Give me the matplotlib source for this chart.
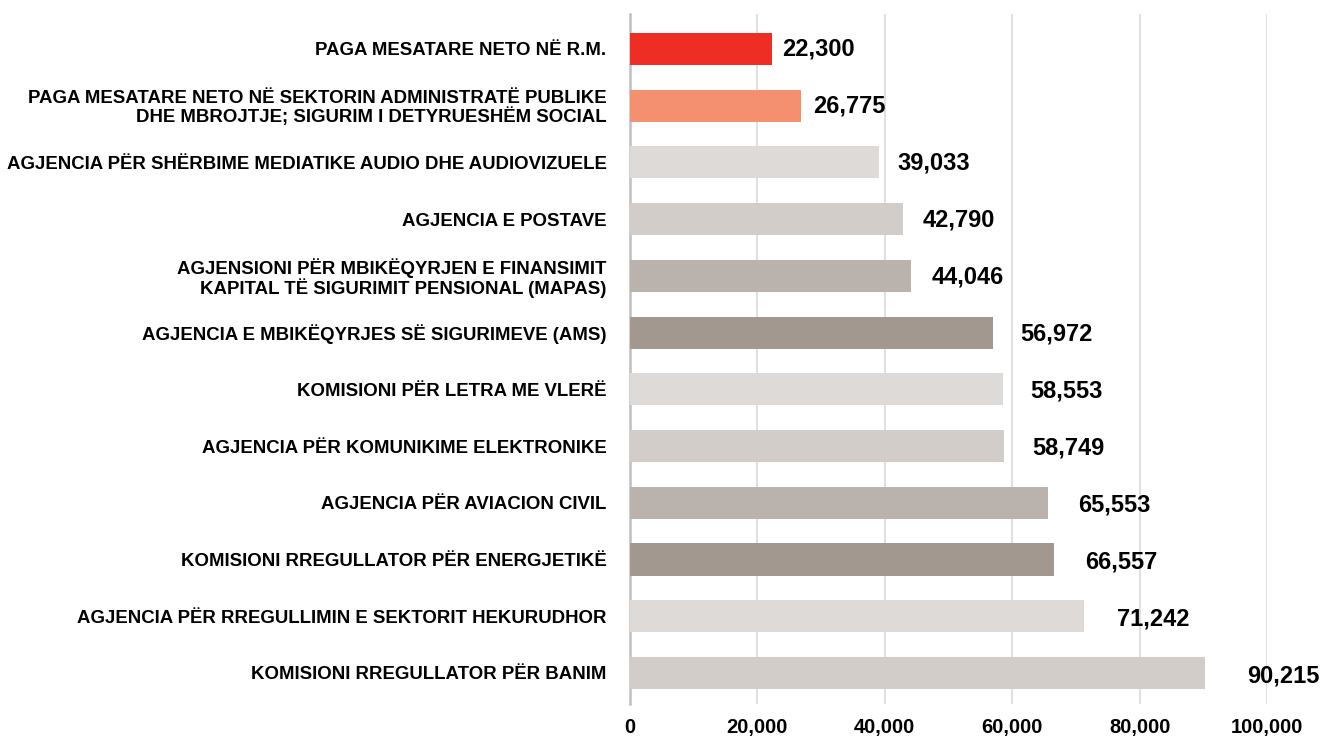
import matplotlib
matplotlib.use('Agg')
import matplotlib.pyplot as plt

# Data
categories = [
    "PAGA MESATARE NETO NË R.M.",
    "PAGA MESATARE NETO NË SEKTORIN ADMINISTRATË PUBLIKE\nDHE MBROJTJE; SIGURIM I DETYRUESHËM SOCIAL",
    "AGJENCIA PËR SHËRBIME MEDIATIKE AUDIO DHE AUDIOVIZUELE",
    "AGJENCIA E POSTAVE",
    "AGJENSIONI PËR MBIKËQYRJEN E FINANSIMIT\nKAPITAL TË SIGURIMIT PENSIONAL (MAPAS)",
    "AGJENCIA E MBIKËQYRJES SË SIGURIMEVE (AMS)",
    "KOMISIONI PËR LETRA ME VLERË",
    "AGJENCIA PËR KOMUNIKIME ELEKTRONIKE",
    "AGJENCIA PËR AVIACION CIVIL",
    "KOMISIONI RREGULLATOR PËR ENERGJETIKË",
    "AGJENCIA PËR RREGULLIMIN E SEKTORIT HEKURUDHOR",
    "KOMISIONI RREGULLATOR PËR BANIM",
]
values = [22300, 26775, 39033, 42790, 44046, 56972, 58553, 58749, 65553, 66557, 71242, 90215]
xticks = [0, 20000, 40000, 60000, 80000, 100000]

# Colours
bar_colors = ['#EE2E24', '#F4906F'] + ['#DEDAD7', '#D2CDC9', '#BAB2AC', '#A39890'] * 2 + ['#DEDAD7', '#D2CDC9']

plt.rcParams['font.family'] = ['Liberation Sans', 'DejaVu Sans']
plt.rcParams['font.weight'] = 'bold'

fig = plt.figure(figsize=(13.22, 7.37), dpi=100)
ax = fig.add_axes([630 / 1322, 1 - 704 / 737, (1267 - 630) / 1322, 690 / 737])

y = list(range(len(values)))
ax.barh(y, values, height=0.565, color=bar_colors, zorder=3)

# labels sit a bit right of the bar end, drifting slightly lower down the list
for i, v in enumerate(values):
    ax.text(v * 1.074, i + 0.05 * i / 11, f"{v:,}", ha='left', va='center',
            fontsize=17, fontweight='bold', color='black', zorder=4)

ax.set_xlim(0, 100000)
ax.set_ylim(11.547, -0.617)
ax.set_xticks(xticks)
ax.set_xticklabels([f"{t:,}" for t in xticks], fontsize=14.5, fontweight='bold')
ax.set_yticks(y)
ax.set_yticklabels(categories, fontsize=13.4, fontweight='bold', linespacing=1.0)

ax.xaxis.grid(True, color='#E0E0E0', linewidth=1.5, zorder=0)
ax.yaxis.grid(False)
for s in ['top', 'right', 'bottom']:
    ax.spines[s].set_visible(False)
ax.spines['left'].set_color('#BFBFBF')
ax.spines['left'].set_linewidth(1.8)
ax.tick_params(axis='x', length=0, pad=10)
ax.tick_params(axis='y', length=0, pad=17)

plt.savefig('out.png', dpi=100)
